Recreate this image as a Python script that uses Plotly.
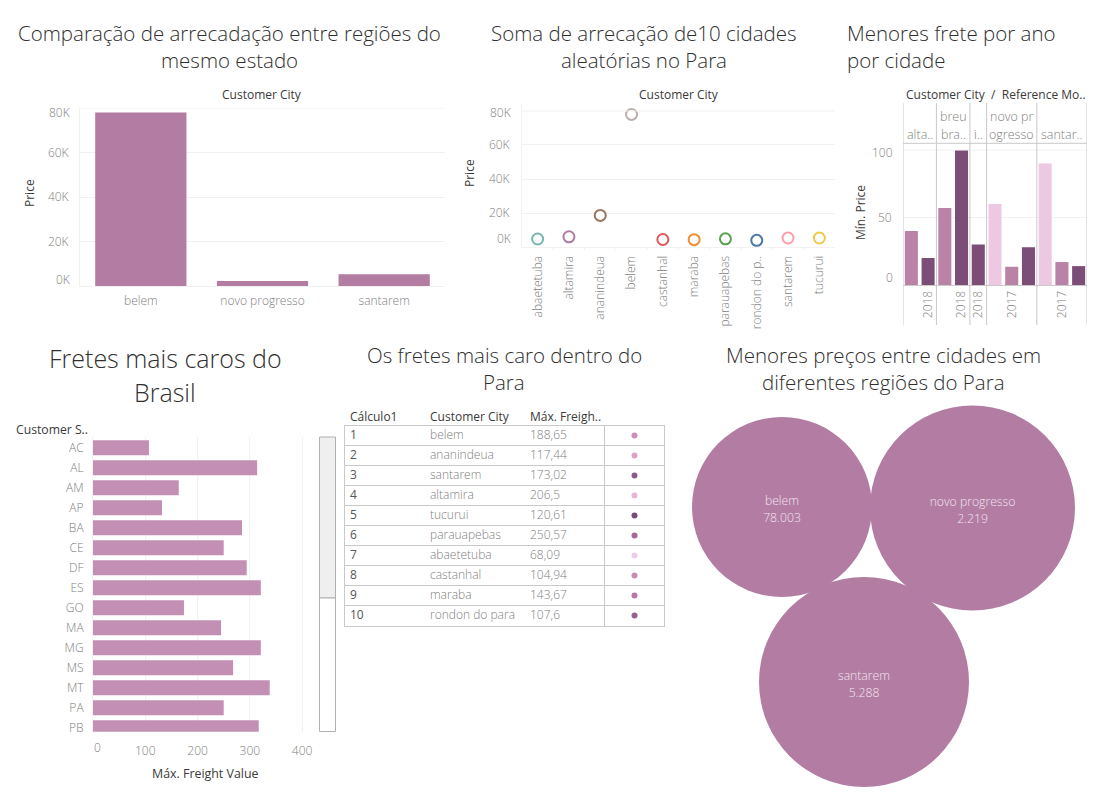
import plotly.graph_objects as go

FW, FH = 1091, 791   # page body adds an 8 px margin; all coordinates below are window pixels
FONT = "Open Sans"
GRAY = "#808080"
DARK = "#3a3a3a"
GRID = "#f1f1f1"
RULE = "#c9c9c9"
CLEAR = "rgba(0,0,0,0)"

# ---- data ----
region_cities = ["belem", "novo progresso", "santarem"]
region_price = [78003, 2219, 5288]

sample_cities = ["abaetetuba", "altamira", "ananindeua", "belem", "castanhal", "maraba",
                 "parauapebas", "rondon do p..", "santarem", "tucurui"]
sample_price = [4700, 6000, 18600, 78003, 4400, 4300, 4800, 3900, 5288, 5300]
sample_colors = ["#76b7b2", "#b07aa1", "#9c755f", "#bab0ac", "#e15759", "#f28e2b",
                 "#59a14f", "#4e79a7", "#ff9da7", "#edc948"]

facet_upper = ["", "breu", "", "novo pr", ""]
facet_lower = ["alta..", "bra..", "i..", "ogresso", "santar.."]
facet_counts = [2, 2, 1, 3, 3]
min_price = [40, 20, 57, 100, 30, 60, 13.5, 28, 90, 17, 14]
min_shade = ["m", "d", "m", "d", "d", "l", "m", "d", "l", "m", "d"]
year_bands = [1, 3, 4, 6, 9]
year_labels = ["2018", "2018", "2018", "2017", "2017"]

states = ["AC", "AL", "AM", "AP", "BA", "CE", "DF", "ES", "GO", "MA", "MG", "MS", "MT", "PA", "PB"]
state_freight = [107, 314, 164, 132, 285, 250, 294, 321, 174, 245, 321, 268, 338, 250, 317]

rank = ["1", "2", "3", "4", "5", "6", "7", "8", "9", "10"]
table_city = ["belem", "ananindeua", "santarem", "altamira", "tucurui", "parauapebas",
              "abaetetuba", "castanhal", "maraba", "rondon do para"]
table_freight = ["188,65", "117,44", "173,02", "206,5", "120,61", "250,57",
                 "68,09", "104,94", "143,67", "107,6"]
dot_colors = ["#c98fb6", "#d9a3c6", "#8d5a8e", "#e4b6d8", "#7a4a7a", "#a3699a",
              "#eccfe6", "#c48eb3", "#b678a5", "#96628f"]

bubble_cities = ["belem", "novo progresso", "santarem"]
bubble_labels = ["78.003", "2.219", "5.288"]
bubble_x = [782, 972.5, 864]
bubble_y = [507, 508, 682]
bubble_d = [180, 205, 210]

SHADES = {"l": "#edc8e3", "m": "#b982a6", "d": "#7c4d77"}


def X(x):
    return (x - 8) / FW


def Y(y):
    return 1 - (y - 8) / FH


def dx(x0, x1):
    return [X(x0), X(x1)]


def dy(y0, y1):
    return [Y(y1), Y(y0)]


fig = go.Figure()
ann = []
shapes = []


def text(x, y, s, size=12, color=DARK, anchor="center", angle=0, weight=400):
    ann.append(dict(x=X(x), y=Y(y), xref="paper", yref="paper", text=s, showarrow=False,
                    font=dict(size=size, color=color, family=FONT, weight=weight),
                    xanchor=anchor, yanchor="middle", textangle=angle))


def axis(domain, **kw):
    d = dict(domain=domain, showgrid=False, zeroline=False, showline=False, ticks="outside", tickcolor=CLEAR,
             ticklen=6, tickfont=dict(size=12, color=GRAY, family=FONT, weight=300), automargin=False)
    d.update(kw)
    return d


# Panel 1
fig.add_trace(go.Bar(x=region_cities, y=region_price, marker=dict(color="#b27ca3", line_width=0), width=0.75,
                     xaxis="x", yaxis="y"))
lay = dict(
    xaxis=axis(dx(80, 445), anchor="y", type="category", showline=True, linecolor=GRID, ticklen=4),
    yaxis=axis(dy(108, 286), anchor="x", range=[0, 80000], tickvals=[20000, 40000, 60000],
               ticktext=["20K", "40K", "60K"], showgrid=True, gridcolor=GRID, ticklen=8,
               showline=True, linecolor=GRID),
)
shapes.append(dict(type="line", xref="x domain", yref="y", x0=0, x1=1, y0=80000, y1=80000,
                   line=dict(color=GRID, width=1)))
text(72, 113, "80K", 12, GRAY, "right", weight=300)
text(72, 279, "0K", 12, GRAY, "right", weight=300)
text(262, 94, "Customer City")
text(30, 193, "Price", 12, DARK, "center", -90)

# Panel 2
fig.add_trace(go.Scatter(x=sample_cities, y=sample_price, mode="markers", xaxis="x2", yaxis="y2",
                         marker=dict(size=11, color="white", line=dict(width=2, color=sample_colors))))
lay["xaxis2"] = axis(dx(522, 835), anchor="y2", type="category", showline=True, linecolor=GRID,
                     tickangle=-90, range=[-0.5, 9.5], ticklen=3)
lay["yaxis2"] = axis(dy(103, 247), anchor="x2", range=[0, 84700], tickvals=[20000, 40000, 60000],
                     ticktext=["20K", "40K", "60K"], showgrid=True, gridcolor=GRID, ticklen=9,
                     showline=True, linecolor=GRID)
shapes.append(dict(type="line", xref="x2 domain", yref="y2", x0=0, x1=1, y0=80000, y1=80000,
                   line=dict(color=GRID, width=1)))
for band in range(len(sample_cities) + 1):
    shapes.append(dict(type="line", xref="x2", yref="paper", x0=band - 0.5, x1=band - 0.5,
                       y0=Y(250), y1=Y(247), line=dict(color=GRID, width=1)))
text(513, 113, "80K", 12, GRAY, "right", weight=300)
text(513, 238, "0K", 12, GRAY, "right", weight=300)
text(679, 94, "Customer City")
text(470, 173, "Price", 12, DARK, "center", -90)

# Panel 3
fig.add_trace(go.Bar(x=list(range(len(min_price))), y=min_price, width=0.78,
                     marker=dict(color=[SHADES[s] for s in min_shade], line_width=0), xaxis="x3", yaxis="y3"))
lay["xaxis3"] = axis(dx(903, 1087), anchor="y3", range=[-0.5, 10.5], tickvals=year_bands,
                     ticktext=year_labels, tickangle=-90, showline=True, linecolor=RULE, ticklen=0)
lay["yaxis3"] = axis(dy(143.3, 285), anchor="x3", range=[0, 105], tickvals=[50],
                     showgrid=True, gridcolor=GRID, ticklen=8)
shapes.append(dict(type="line", xref="x3 domain", yref="y3", x0=0, x1=1, y0=100, y1=100,
                   line=dict(color=GRID, width=1)))
text(895, 152, "100", 12, GRAY, "right", weight=300)
text(895, 277, "0", 12, GRAY, "right", weight=300)
edge = -0.5
edges = [edge]
for n in facet_counts:
    edge += n
    edges.append(edge)
for e in edges:
    shapes.append(dict(type="line", xref="x3", yref="paper", x0=e, x1=e, y0=Y(325), y1=Y(103),
                       line=dict(color=RULE, width=1)))
shapes.append(dict(type="line", xref="x3", yref="paper", x0=-0.5, x1=10.5, y0=Y(143.3), y1=Y(143.3),
                   line=dict(color=RULE, width=1)))
for i in range(len(facet_counts)):
    for label, py in ((facet_upper[i], 117), (facet_lower[i], 135)):
        if label:
            ann.append(dict(x=(edges[i] + edges[i + 1]) / 2, y=Y(py), xref="x3", yref="paper", text=label,
                            showarrow=False, yanchor="middle",
                            font=dict(size=12.5, color=GRAY, family=FONT, weight=300)))
text(996, 94, "Customer City  /  Reference Mo..", 12)
text(860, 213, "Mín. Price", 12, DARK, "center", -90)

# Panel 4
fig.add_trace(go.Bar(y=states, x=state_freight, orientation="h", marker=dict(color="#c38fb4", line_width=0),
                     width=0.75, xaxis="x4", yaxis="y4"))
lay["xaxis4"] = axis(dx(93, 311), anchor="y4", range=[0, 417], tickvals=[100, 200, 300, 400],
                     showgrid=True, gridcolor=GRID, ticklen=8)
lay["yaxis4"] = axis(dy(437, 731.7), anchor="x4", type="category", range=[14.2, -0.535],
                     categoryorder="array", categoryarray=states, ticklen=6,
                     showline=True, linecolor=GRID)
text(97, 747, "0", 12, GRAY, weight=300)
text(14, 429, "Customer S..", 12.2, DARK, "left")
text(205, 773, "Máx. Freight Value", 12.4)
shapes.append(dict(type="rect", xref="paper", yref="paper", x0=X(319.5), x1=X(335.5),
                   y0=Y(598), y1=Y(437), fillcolor="#efefef", line=dict(color="#b0b0b0", width=1)))
shapes.append(dict(type="rect", xref="paper", yref="paper", x0=X(319.5), x1=X(335.5),
                   y0=Y(731.5), y1=Y(598), fillcolor="white", line=dict(color="#b0b0b0", width=1)))

# Panel 5: table
row_ids = list(range(1, len(rank) + 1))
for col_x, col, col_color, w in [(350, rank, "#555555", 400), (430, table_city, GRAY, 300),
                                 (530, table_freight, GRAY, 300)]:
    fig.add_trace(go.Scatter(x=[col_x] * len(col), y=row_ids, text=col, mode="text", textposition="middle right",
                             textfont=dict(size=12, color=col_color, family=FONT, weight=w),
                             xaxis="x5", yaxis="y5"))
fig.add_trace(go.Scatter(x=[634.5] * len(rank), y=row_ids, mode="markers", xaxis="x5", yaxis="y5",
                         marker=dict(size=6, color=dot_colors)))
lay["xaxis5"] = axis(dx(345, 664), anchor="y5", range=[345, 664], tickvals=[604.5], showticklabels=False,
                     showgrid=True, gridcolor=RULE, showline=True, linecolor=RULE, mirror=True, ticks="")
lay["yaxis5"] = axis(dy(425.5, 625.5), anchor="x5", range=[10.5, 0.5],
                     tickvals=[r + 0.5 for r in row_ids], showticklabels=False,
                     showgrid=True, gridcolor=RULE, showline=True, linecolor=RULE, mirror=True, ticks="")
text(348, 417, "Cálculo1", 12, DARK, "left")
text(428, 417, "Customer City", 12, DARK, "left")
text(528, 417, "Máx. Freigh..", 12, DARK, "left")

# Panel 6: bubbles
fig.add_trace(go.Scatter(x=bubble_x, y=bubble_y, mode="markers",
                         marker=dict(size=bubble_d, sizemode="diameter", color="#b27ca3", opacity=1,
                                     line=dict(width=0)),
                         xaxis="x6", yaxis="y6"))
for labels, offset in ((bubble_cities, -5), (bubble_labels, 12)):
    fig.add_trace(go.Scatter(x=bubble_x, y=[b + offset for b in bubble_y], mode="text", text=labels,
                             textposition="middle center", cliponaxis=False,
                             textfont=dict(size=12.2, color="#f3e6ef", family=FONT, weight=300),
                             xaxis="x6", yaxis="y6"))
lay["xaxis6"] = axis(dx(680, 1099), anchor="y6", range=[680, 1099], visible=False)
lay["yaxis6"] = axis(dy(400, 795), anchor="x6", range=[795, 400], visible=False)

# Titles, one annotation per line
for cx, y, s, size, anchor in [
    (229, 32.5, "Comparação de arrecadação entre regiões do", 20.5, "center"),
    (229, 60.5, "mesmo estado", 20.5, "center"),
    (644, 32.5, "Soma de arrecação de10 cidades", 20.5, "center"),
    (644, 60.5, "aleatórias no Para", 20.5, "center"),
    (845, 32.5, "Menores frete por ano", 20.5, "left"),
    (845, 60.5, "por cidade", 20.5, "left"),
    (165, 358, "Fretes mais caros do", 25, "center"),
    (165, 392, "Brasil", 25, "center"),
    (504, 354.5, "Os fretes mais caro dentro do", 20.5, "center"),
    (504, 382.5, "Para", 20.5, "center"),
    (883, 354.5, "Menores preços entre cidades em", 20.5, "center"),
    (883, 382.5, "diferentes regiões do Para", 20.5, "center"),
]:
    text(cx, y, s, size, "#2f2f2f", anchor, weight=300)

fig.update_layout(width=FW, height=FH, margin=dict(l=0, r=0, t=0, b=0), showlegend=False,
                  paper_bgcolor="white", plot_bgcolor="white", font=dict(family=FONT),
                  annotations=ann, shapes=shapes, **lay)
fig.write_html("out.html")
